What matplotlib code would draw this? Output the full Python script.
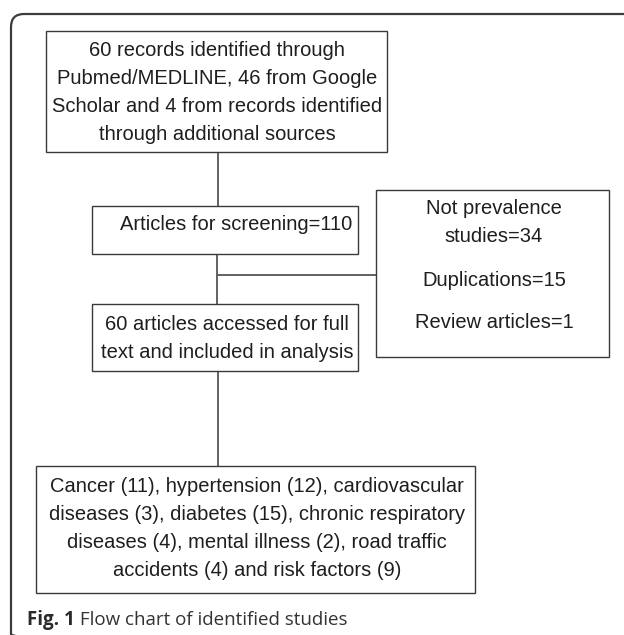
import matplotlib
matplotlib.use("Agg")
import matplotlib.pyplot as plt
from matplotlib.patches import Rectangle, FancyBboxPatch

# ---- content ----
box_records = ["60 records identified through",
               "Pubmed/MEDLINE, 46 from Google",
               "Scholar and 4 from records identified",
               "through additional sources"]
box_screening = ["Articles for screening=110"]
box_fulltext = ["60 articles accessed for full",
                "text and included in analysis"]
box_excluded = ["Not prevalence", "studies=34", "", "Duplications=15", "", "Review articles=1"]
box_categories = ["Cancer (11), hypertension (12), cardiovascular",
                  "diseases (3), diabetes (15), chronic respiratory",
                  "diseases (4), mental illness (2), road traffic",
                  "accidents (4) and risk factors (9)"]
caption_bold = "Fig. 1"
caption_text = " Flow chart of identified studies"

W, H = 624, 635
fig = plt.figure(figsize=(W / 100, H / 100), dpi=100)
ax = fig.add_axes([0, 0, 1, 1])
ax.set_xlim(0, W)
ax.set_ylim(H, 0)
ax.axis("off")

edge = "#3a3a3a"
line_c = "#555555"
txt_c = "#1e1e1e"
font = "Liberation Sans"
fs = 14.5

# outer rounded frame
frame = FancyBboxPatch((11, 14), 700, 633,
                       boxstyle="round,pad=0,rounding_size=13",
                       fill=False, ec="#3c3c3c", lw=1.6, zorder=1)
ax.add_patch(frame)


def box(x0, x1, y0, y1):
    ax.add_patch(Rectangle((x0, y0), x1 - x0, y1 - y0, fill=False,
                           ec=edge, lw=1.0, zorder=2))


def lines(xc, ys, texts, size=fs):
    for y, t in zip(ys, texts):
        if t:
            ax.text(xc, y, t, ha="center", va="center", fontsize=size,
                    family=font, color=txt_c, zorder=3)


def seg(xs, ys):
    ax.plot(xs, ys, color=line_c, lw=1.3, solid_capstyle="butt", zorder=1.5)


# boxes
box(46, 387, 31, 152)
lines(217, [50, 78, 106, 134], box_records)

box(92, 358, 206, 254)
lines(236, [225], box_screening)

box(92, 358, 304, 371)
lines(227, [324, 352], box_fulltext)

box(376, 609, 190, 357)
lines(494, [209, 236, 258, 280, 301, 322], box_excluded)

box(36, 475, 466, 593)
lines(257, [487, 515, 543, 571], box_categories)

# connectors
seg([218, 218], [152, 206])
seg([217, 217], [254, 304])
seg([217, 376], [275, 275])
seg([218, 218], [371, 466])

# caption
cap_font = "Open Sans"
cap_fs = 13.5
t1 = ax.text(27, 620, caption_bold, ha="left", va="center", fontsize=cap_fs,
             family=cap_font, weight="bold", color="#2a2a2a")
fig.canvas.draw()
bb = t1.get_window_extent(renderer=fig.canvas.get_renderer())
x_end = ax.transData.inverted().transform((bb.x1, bb.y0))[0]
ax.text(x_end, 620, caption_text, ha="left", va="center", fontsize=cap_fs,
        family=cap_font, color="#333333")

fig.savefig("out.png", dpi=100)
